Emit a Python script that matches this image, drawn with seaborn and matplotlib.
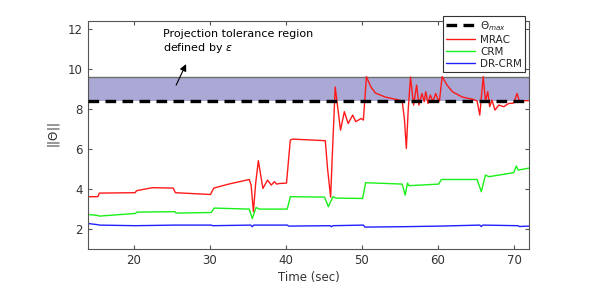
import numpy as np
import pandas as pd
import seaborn as sns
import matplotlib.pyplot as plt

# values
mrac_t = [14, 15.3, 15.5, 20.2, 20.4, 21.5, 22.5, 25.2, 25.5, 30.1, 30.55, 32.5, 35.2, 35.45,
          35.75, 36.05, 36.4, 37.0, 37.6, 38.1, 38.5, 38.8, 39.2, 40.1, 40.6, 40.9, 45.2, 45.5,
          45.9, 46.1, 46.5, 47.2, 47.7, 48.2, 48.8, 49.2, 49.9, 50.2, 50.4, 50.6, 51.2, 51.8,
          53.1, 54.9, 55.3, 55.6, 55.85, 56.1, 56.4, 56.8, 57.2, 57.5, 57.9, 58.2, 58.4, 58.7,
          59.0, 59.35, 59.7, 60.0, 60.2, 60.55, 61.2, 61.9, 63.2, 64.7, 65.15, 65.5, 65.95,
          66.25, 66.55, 66.8, 67.1, 67.5, 68.0, 68.65, 69.3, 69.96, 70.4, 70.7, 71.3, 72]
mrac_y = [3.62, 3.62, 3.8, 3.82, 3.92, 4.0, 4.07, 4.05, 3.82, 3.73, 4.05, 4.25, 4.48, 4.2,
          2.87, 4.3, 5.42, 4.03, 4.45, 4.2, 4.37, 4.25, 4.28, 4.3, 6.45, 6.5, 6.42, 5.0,
          3.6, 5.5, 9.1, 6.95, 7.87, 7.28, 7.7, 7.37, 7.53, 7.45, 8.5, 9.62, 9.1, 8.8,
          8.6, 8.45, 8.4, 7.5, 6.03, 8.0, 9.6, 8.2, 9.2, 8.2, 8.78, 8.37, 8.87, 8.28,
          8.7, 8.37, 8.78, 8.5, 8.4, 9.62, 9.2, 8.87, 8.6, 8.48, 8.4, 7.7, 9.62,
          8.4, 8.87, 8.12, 8.45, 7.95, 8.2, 8.12, 8.28, 8.3, 8.78, 8.4, 8.42, 8.42]

crm_t = [14, 15.3, 15.5, 20.2, 20.5, 25.4, 25.6, 30.2, 30.6, 35.2, 35.6, 36.1, 36.5, 40.2,
         40.6, 45.1, 45.6, 46.2, 46.6, 50.1, 50.5, 55.3, 55.7, 56.0, 56.2, 60.1, 60.45, 65.15,
         65.7, 66.25, 66.7, 69.96, 70.3, 70.55, 72]
crm_y = [2.73, 2.68, 2.65, 2.78, 2.85, 2.87, 2.8, 2.83, 3.05, 3.0, 2.53, 3.08, 3.0, 3.0,
         3.62, 3.6, 3.12, 3.62, 3.55, 3.53, 4.32, 4.25, 3.7, 4.3, 4.17, 4.25, 4.48, 4.48,
         3.87, 4.7, 4.62, 4.82, 5.15, 4.95, 5.05]

drcrm_t = [14, 15.3, 15.5, 20.2, 25.5, 30.2, 30.4, 35.4, 35.6, 35.8, 40.2, 40.4, 45.8, 46.0,
           46.2, 50.2, 50.4, 55.5, 60.3, 65.5, 65.7, 65.9, 70.5, 70.7, 72]
drcrm_y = [2.28, 2.22, 2.2, 2.17, 2.2, 2.2, 2.17, 2.2, 2.12, 2.2, 2.2, 2.15, 2.17, 2.12,
           2.17, 2.2, 2.1, 2.12, 2.15, 2.2, 2.13, 2.2, 2.17, 2.13, 2.15]

theta_max = 8.4
theta_eps = 9.6
x_ticks = [20, 30, 40, 50, 60, 70]
y_ticks = [2, 4, 6, 8, 10, 12]

sns.set_style('ticks')
plt.rcParams['font.family'] = ['DejaVu Sans']

fig = plt.figure(figsize=(5.98, 2.85), dpi=100)
ax = fig.add_axes([0.147, 0.126, 0.738, 0.80])

# projection tolerance band
ax.axhspan(theta_max, theta_eps, color='#aaa8d4', lw=0, zorder=0)
ax.axhline(theta_eps, color='#6e6e6e', lw=1, zorder=1)
ax.axhline(theta_max, color='black', lw=2.4, linestyle=(0, (3.2, 1.9)), zorder=3,
           label=r'$\Theta_{max}$')

sns.lineplot(x=mrac_t, y=mrac_y, ax=ax, color='#ff1a1a', lw=1, estimator=None, label='MRAC', zorder=2)
sns.lineplot(x=crm_t, y=crm_y, ax=ax, color='#19f019', lw=1, estimator=None, label='CRM', zorder=2)
sns.lineplot(x=drcrm_t, y=drcrm_y, ax=ax, color='#2020ff', lw=1, estimator=None, label='DR-CRM', zorder=2)

ax.set_xlim(14, 72)
ax.set_ylim(1, 12.4)
ax.set_xticks(x_ticks)
ax.set_yticks(y_ticks)
ax.tick_params(direction='in', length=3, top=True, right=True, labelsize=8.5,
               color='#555555', labelcolor='#333333')
for s in ax.spines.values():
    s.set_color('#555555')
    s.set_linewidth(0.8)

ax.set_xlabel('Time (sec)', fontsize=8.5, color='#333333', labelpad=3)
ax.set_ylabel(r'$||\Theta||$', fontsize=8.5, color='#333333', labelpad=4)

ax.text(23.9, 10.7, 'Projection tolerance region\ndefined by $\\epsilon$',
        fontsize=8, color='black', va='bottom', ha='left')
ax.annotate('', xy=(26.9, 10.25), xytext=(25.6, 9.2),
            arrowprops=dict(arrowstyle='-|>', color='black', lw=0.8, mutation_scale=10,
                            shrinkA=0, shrinkB=0))

leg = ax.legend(loc='upper right', bbox_to_anchor=(0.878, 0.944), bbox_transform=fig.transFigure,
                fontsize=7.5, fancybox=False, framealpha=1, edgecolor='#333333',
                handlelength=2.8, borderpad=0.3, labelspacing=0.2, handletextpad=0.5,
                borderaxespad=0)
leg.get_frame().set_linewidth(0.8)

fig.savefig('out.png', dpi=100)
